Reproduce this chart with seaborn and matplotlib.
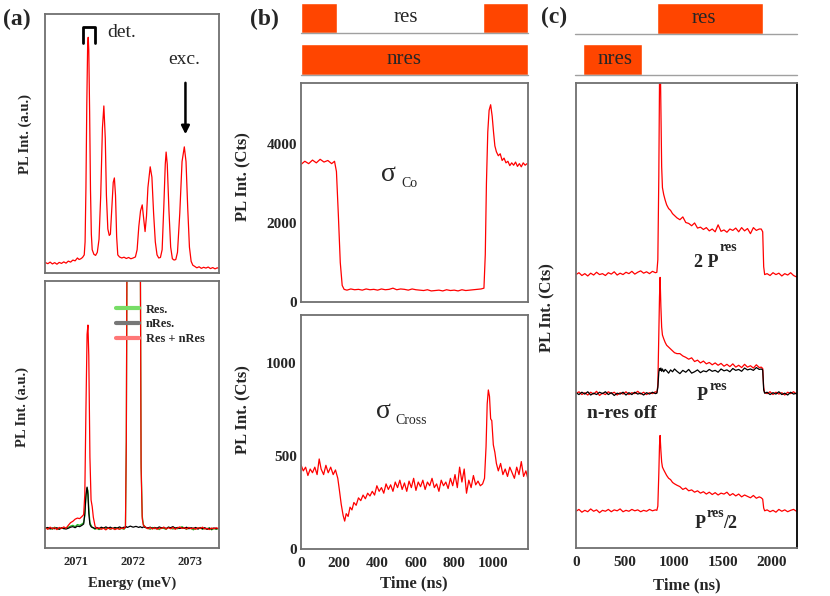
import matplotlib
matplotlib.use("Agg")
import matplotlib.pyplot as plt
from matplotlib.lines import Line2D
import seaborn as sns

W, H = 830, 596
RED = "#ff0000"
ORANGE = "#ff4500"
SPINE = "#707070"

# ---------------------------------------------------------------------------
# Data
# ---------------------------------------------------------------------------

# (a) top: PL spectrum, a.u.
a_top_energy = [
    2070.46, 2070.50, 2070.54, 2070.58, 2070.62, 2070.66, 2070.70, 2070.74, 2070.78, 2070.82,
    2070.86, 2070.90, 2070.94, 2070.98, 2071.02, 2071.05, 2071.08, 2071.11, 2071.14, 2071.155,
    2071.17, 2071.185, 2071.20, 2071.21, 2071.22, 2071.235, 2071.25, 2071.265, 2071.28, 2071.31,
    2071.34, 2071.37, 2071.40, 2071.43, 2071.46, 2071.485, 2071.51, 2071.53, 2071.555, 2071.58,
    2071.60, 2071.625, 2071.65, 2071.67, 2071.69, 2071.71, 2071.73, 2071.76, 2071.80, 2071.84,
    2071.88, 2071.92, 2071.96, 2072.00, 2072.04, 2072.07, 2072.10, 2072.13, 2072.16, 2072.19,
    2072.21, 2072.235, 2072.26, 2072.30, 2072.33, 2072.36, 2072.39, 2072.42, 2072.45, 2072.48,
    2072.51, 2072.54, 2072.565, 2072.58, 2072.60, 2072.63, 2072.66, 2072.69, 2072.72, 2072.75,
    2072.78, 2072.82, 2072.86, 2072.90, 2072.93, 2072.96, 2072.99, 2073.02, 2073.05, 2073.08,
    2073.12, 2073.16, 2073.20, 2073.24, 2073.28, 2073.32, 2073.36, 2073.40, 2073.44, 2073.48,
    2073.51,
]
a_top_pl = [
    0.040, 0.036, 0.042, 0.035, 0.040, 0.034, 0.041, 0.037, 0.043, 0.038,
    0.046, 0.042, 0.050, 0.047, 0.058, 0.052, 0.055, 0.060, 0.070, 0.120,
    0.330, 0.650, 0.880, 0.910, 0.860, 0.620, 0.320, 0.150, 0.090, 0.072,
    0.068, 0.080, 0.130, 0.300, 0.560, 0.645, 0.520, 0.300, 0.170, 0.145,
    0.150, 0.250, 0.350, 0.367, 0.300, 0.140, 0.070, 0.062, 0.058, 0.061,
    0.056, 0.060, 0.055, 0.058, 0.062, 0.090, 0.180, 0.240, 0.263, 0.200,
    0.160, 0.220, 0.330, 0.410, 0.370, 0.230, 0.120, 0.070, 0.058, 0.060,
    0.090, 0.260, 0.420, 0.467, 0.420, 0.240, 0.100, 0.055, 0.050, 0.052,
    0.080, 0.230, 0.430, 0.487, 0.430, 0.250, 0.100, 0.045, 0.030, 0.026,
    0.020, 0.024, 0.018, 0.022, 0.019, 0.023, 0.017, 0.021, 0.016, 0.020,
    0.018,
]

# (a) bottom: Res., nRes., Res + nRes spectra
a_bot_energy = [
    2070.46, 2070.50, 2070.54, 2070.58, 2070.62, 2070.66, 2070.70, 2070.74, 2070.78, 2070.82,
    2070.86, 2070.90, 2070.94, 2070.98, 2071.02, 2071.06, 2071.10, 2071.13, 2071.15, 2071.17,
    2071.19, 2071.205, 2071.22, 2071.24, 2071.26, 2071.28, 2071.30, 2071.33, 2071.36, 2071.40,
    2071.44, 2071.48, 2071.52, 2071.56, 2071.60, 2071.64, 2071.68, 2071.72, 2071.76, 2071.80,
    2071.84, 2071.865, 2071.88, 2071.90, 2071.95, 2072.00, 2072.05, 2072.10, 2072.125, 2072.14,
    2072.16, 2072.18, 2072.22, 2072.26, 2072.30, 2072.34, 2072.38, 2072.42, 2072.46, 2072.50,
    2072.54, 2072.58, 2072.62, 2072.66, 2072.70, 2072.74, 2072.78, 2072.82, 2072.86, 2072.90,
    2072.94, 2072.98, 2073.02, 2073.06, 2073.10, 2073.14, 2073.18, 2073.22, 2073.26, 2073.30,
    2073.34, 2073.38, 2073.42, 2073.46, 2073.51,
]
a_bot_both = [
    0.075, 0.070, 0.078, 0.072, 0.076, 0.069, 0.077, 0.073, 0.079, 0.074,
    0.085, 0.095, 0.100, 0.108, 0.112, 0.110, 0.118, 0.125, 0.200, 0.520,
    0.800, 0.835, 0.720, 0.340, 0.180, 0.155, 0.115, 0.082, 0.072, 0.076,
    0.070, 0.074, 0.068, 0.075, 0.071, 0.074, 0.069, 0.073, 0.070, 0.075,
    0.072, 0.080, 0.400, 1.600, 1.700, 1.750, 1.700, 1.600, 1.200, 0.300,
    0.110, 0.085, 0.078, 0.072, 0.077, 0.071, 0.076, 0.070, 0.075, 0.073,
    0.078, 0.071, 0.076, 0.072, 0.077, 0.070, 0.075, 0.079, 0.073, 0.076,
    0.071, 0.077, 0.072, 0.075, 0.070, 0.076, 0.073, 0.078, 0.071, 0.074,
    0.069, 0.075, 0.072, 0.076, 0.071,
]
a_bot_res = [
    0.077, 0.072, 0.075, 0.070, 0.078, 0.073, 0.071, 0.076, 0.072, 0.075,
    0.078, 0.082, 0.085, 0.080, 0.088, 0.085, 0.090, 0.095, 0.120, 0.190,
    0.225, 0.215, 0.150, 0.095, 0.085, 0.078, 0.075, 0.070, 0.074, 0.069,
    0.073, 0.076, 0.071, 0.075, 0.070, 0.074, 0.072, 0.076, 0.071, 0.073,
    0.070, 0.080, 0.400, 1.600, 1.700, 1.750, 1.700, 1.600, 1.200, 0.320,
    0.120, 0.088, 0.076, 0.074, 0.070, 0.077, 0.072, 0.075, 0.069, 0.076,
    0.073, 0.070, 0.078, 0.074, 0.071, 0.076, 0.072, 0.075, 0.080, 0.074,
    0.070, 0.077, 0.073, 0.068, 0.075, 0.072, 0.077, 0.070, 0.074, 0.071,
    0.076, 0.068, 0.073, 0.070, 0.074,
]
a_bot_nres = [
    0.074, 0.077, 0.071, 0.075, 0.072, 0.076, 0.070, 0.075, 0.073, 0.071,
    0.074, 0.078, 0.080, 0.076, 0.082, 0.080, 0.085, 0.090, 0.130, 0.200,
    0.228, 0.200, 0.130, 0.088, 0.080, 0.077, 0.076, 0.073, 0.077, 0.072,
    0.078, 0.074, 0.079, 0.075, 0.078, 0.073, 0.077, 0.074, 0.079, 0.075,
    0.078, 0.076, 0.080, 0.077, 0.082, 0.078, 0.081, 0.077, 0.080, 0.078,
    0.076, 0.079, 0.077, 0.075, 0.078, 0.073, 0.077, 0.074, 0.079, 0.075,
    0.077, 0.073, 0.078, 0.076, 0.080, 0.074, 0.077, 0.073, 0.076, 0.074,
    0.078, 0.072, 0.076, 0.073, 0.077, 0.071, 0.075, 0.072, 0.076, 0.070,
    0.074, 0.071, 0.075, 0.072, 0.074,
]
a_ticks = [2071, 2072, 2073]
a_legend = ["Res.", "nRes.", "Res + nRes"]

# (b) top: sigma Co, counts
b_co_time = [
    0, 20, 40, 60, 80, 100, 120, 140, 160, 175, 185, 195, 205, 215, 225, 240, 260, 280, 300, 320,
    340, 360, 380, 400, 420, 440, 460, 480, 500, 520, 540, 560, 580, 600, 620, 640, 660, 680, 700,
    720, 740, 760, 780, 800, 820, 840, 860, 880, 900, 920, 940, 955, 962, 968, 975, 982, 990, 998,
    1005, 1012, 1020, 1030, 1040, 1050, 1060, 1070, 1080, 1090, 1100, 1110, 1120, 1130, 1140,
    1150, 1160, 1170, 1180,
]
b_co_counts = [
    3480, 3560, 3500, 3590, 3520, 3610, 3540, 3580, 3500, 3560, 3300, 2200, 1000, 420, 320, 300,
    330, 310, 320, 300, 330, 310, 320, 300, 330, 310, 320, 350, 310, 330, 320, 300, 330, 310, 300,
    290, 310, 280, 290, 300, 280, 310, 290, 300, 280, 310, 290, 300, 310, 320, 330, 350, 1200,
    3000, 4300, 4850, 4990, 4700, 4300, 3950, 3800, 3700, 3750, 3580, 3640, 3520, 3560, 3450,
    3520, 3460, 3540, 3430, 3500, 3420, 3520, 3460, 3500,
]

# (b) bottom: sigma Cross, counts
b_cross_time = [
    0, 12, 24, 36, 48, 60, 72, 84, 95, 105, 118, 130, 142, 155, 168, 180, 192, 200, 210, 220,
    228, 236, 246, 256, 266, 276, 288, 300, 312, 324, 336, 348, 360, 372, 384, 396, 408, 420,
    432, 444, 456, 468, 480, 492, 504, 516, 528, 540, 552, 564, 576, 588, 600, 612, 624, 636,
    648, 660, 672, 684, 696, 708, 720, 732, 744, 756, 768, 780, 792, 804, 816, 828, 840, 852,
    864, 876, 888, 900, 912, 924, 936, 948, 958, 966, 972, 978, 984, 990, 996, 1004, 1012, 1020,
    1030, 1042, 1054, 1066, 1078, 1090, 1102, 1114, 1126, 1138, 1150, 1162, 1174, 1184,
]
b_cross_counts = [
    452, 420, 440, 395, 430, 410, 440, 400, 484, 430, 400, 450, 410, 440, 400, 425, 380, 320,
    240, 180, 150, 190, 175, 225, 210, 250, 235, 275, 260, 290, 270, 300, 285, 310, 290, 340,
    310, 330, 300, 350, 320, 345, 310, 360, 330, 370, 320, 355, 310, 365, 330, 380, 315, 360,
    335, 370, 320, 360, 340, 380, 330, 350, 310, 370, 340, 360, 325, 380, 340, 400, 330, 440,
    360, 430, 300, 370, 330, 395, 345, 365, 340, 350, 380, 550, 780, 855, 820, 700, 690, 560,
    520, 460, 420, 460, 400, 430, 390, 440, 410, 380, 440, 400, 470, 390, 420, 380,
]

# (b) laser pulse sequence (ns)
b_res_on = [(0, 189), (952, 1185)]
b_nres_on = [(0, 1185)]
b_ticks = [0, 200, 400, 600, 800, 1000]

# (c) transients (offset, arbitrary counts)
c_time = [
    0, 30, 60, 90, 120, 150, 180, 210, 240, 270, 300, 330, 360, 390, 420, 450, 480, 510, 540,
    570, 600, 630, 660, 690, 720, 750, 780, 810,
    825, 835, 845, 852, 858, 866, 874, 882, 895, 910, 925, 945, 965, 985, 1005, 1030,
    1060, 1090, 1120, 1150, 1180, 1210, 1240, 1270, 1300, 1330, 1360, 1390, 1420, 1450, 1480,
    1510, 1540, 1570, 1600, 1630, 1660, 1690, 1720, 1750, 1780, 1810, 1840, 1870,
    1890, 1905, 1915, 1925,
    1950, 1980, 2010, 2040, 2070, 2100, 2130, 2160, 2190, 2220, 2250,
]
c_2p = [
    58.8, 59.2, 58.6, 59.0, 58.5, 59.1, 58.7, 59.3, 58.8, 59.0, 58.6, 59.2, 58.9, 59.4, 58.7,
    59.1, 58.8, 59.3, 59.0, 59.5, 58.9, 59.3, 59.6, 59.1, 59.4, 59.0, 59.5, 59.2,
    59.3, 62.0, 80.0, 100.0, 108.0, 95.0, 82.0, 77.5, 76.0, 74.8, 73.8, 73.0, 72.6, 71.9, 71.5, 71.0,
    70.6, 71.2, 70.0, 69.8, 69.3, 69.9, 68.8, 69.0, 68.5, 68.9, 68.2, 68.6, 68.0, 69.5, 68.1,
    68.4, 67.9, 68.6, 68.3, 68.8, 68.0, 68.9, 68.2, 68.7, 67.6, 68.9, 68.3, 68.6,
    68.6, 68.0, 60.5, 58.8,
    59.0, 58.6, 59.2, 58.8, 59.1, 58.5, 59.0, 58.7, 59.2, 58.6, 58.3,
]
c_p = [
    33.2, 33.6, 33.0, 33.4, 32.9, 33.5, 33.1, 33.7, 32.8, 33.3, 33.0, 33.6, 33.2, 33.5, 32.9,
    33.4, 33.1, 33.6, 33.0, 33.4, 33.2, 33.7, 33.1, 33.5, 33.0, 33.4, 33.2, 33.6,
    33.4, 35.0, 46.0, 54.0, 58.2, 52.0, 47.5, 45.8, 45.0, 44.2, 43.6, 43.2, 42.8, 42.4, 42.0, 41.8,
    41.8, 41.3, 41.0, 40.6, 40.9, 40.1, 40.4, 39.8, 40.2, 39.6, 39.9, 39.4, 39.8, 39.3, 39.7,
    39.1, 39.5, 39.0, 39.6, 38.9, 39.3, 38.8, 39.5, 38.9, 39.2, 38.7, 39.4, 38.8,
    38.9, 38.6, 34.5, 33.4,
    33.2, 33.6, 33.0, 33.5, 33.1, 33.4, 32.9, 33.5, 33.2, 33.6, 33.1,
]
c_p_nres_off = [
    33.4, 33.0, 33.5, 33.1, 33.6, 32.9, 33.3, 33.0, 33.5, 33.2, 33.6, 33.0, 33.4, 32.8, 33.3,
    33.1, 33.5, 32.9, 33.4, 33.0, 33.5, 33.1, 33.3, 32.9, 33.4, 33.1, 33.5, 33.2,
    33.3, 34.5, 37.8, 38.6, 38.2, 38.7, 38.0, 38.5, 37.9, 38.4, 38.1, 37.6, 38.3, 37.9, 38.5, 38.0,
    37.5, 38.2, 37.8, 38.4, 37.6, 37.9, 38.3, 37.7, 38.1, 37.9, 38.4, 38.0, 38.2, 37.8, 38.5,
    38.1, 38.3, 37.9, 38.6, 38.2, 38.4, 38.0, 38.7, 38.3, 38.5, 38.2, 38.8, 38.4,
    38.5, 38.3, 34.0, 33.3,
    33.5, 33.0, 33.4, 33.1, 33.6, 33.0, 33.3, 32.9, 33.5, 33.1, 33.3,
]
c_p_half = [
    7.9, 8.3, 7.7, 8.1, 7.8, 8.4, 7.9, 8.2, 7.6, 8.1, 7.9, 8.3, 7.8, 8.2, 8.0, 8.4, 7.8, 8.1,
    7.9, 8.3, 8.0, 8.2, 7.8, 8.1, 7.9, 8.3, 8.0, 8.2,
    8.1, 9.0, 16.0, 22.0, 24.2, 21.0, 18.5, 17.4, 16.8, 16.2, 15.6, 15.0, 14.7, 14.1, 13.8, 13.5,
    13.2, 12.6, 12.9, 12.3, 12.5, 12.0, 12.3, 11.8, 12.1, 11.6, 12.0, 11.5, 11.9, 11.4, 11.8,
    11.6, 12.0, 11.3, 11.7, 11.2, 11.6, 11.0, 11.4, 11.1, 10.8, 11.3, 10.7, 11.0,
    10.8, 10.5, 8.6, 8.0,
    8.2, 7.8, 8.1, 7.7, 8.3, 7.9, 8.2, 7.8, 8.1, 8.3, 7.9,
]
c_res_on = [(831, 1908)]
c_nres_on = [(82, 677)]
c_ticks = [0, 500, 1000, 1500, 2000]


# ---------------------------------------------------------------------------
# Helpers
# ---------------------------------------------------------------------------

def px_axes(fig, x0, y0, x1, y1):
    """Axes from a pixel box (left, top, right, bottom) of the 830x596 figure."""
    return fig.add_axes([x0 / W, 1 - y1 / H, (x1 - x0) / W, (y1 - y0) / H])


def style_frame(ax):
    for s in ax.spines.values():
        s.set_color(SPINE)
        s.set_linewidth(1.3)
        s.set_visible(True)


def place_ylabel(ax, text, size, x, y):
    ax.set_ylabel(text, fontsize=size)
    ax.yaxis.set_label_coords(x, y)
    ax.yaxis.label.set_va("center")


def place_xlabel(ax, text, size, x, y):
    ax.set_xlabel(text, fontsize=size)
    ax.xaxis.set_label_coords(x, y)
    ax.xaxis.label.set_va("center")


def pulse_bar(ax, spans, xlim, label, label_x):
    ax.set_xlim(*xlim)
    ax.set_ylim(0, 1)
    ax.axis("off")
    ax.axhline(0, color="#a0a0a0", lw=1.0, clip_on=False)
    ax.broken_barh([(a, b - a) for a, b in spans], (0, 1), facecolors=ORANGE)
    ax.text(label_x, 0.5, label, ha="center", va="center", fontsize=15,
            fontweight="normal")


# ---------------------------------------------------------------------------
# Figure
# ---------------------------------------------------------------------------

sns.set_style("white")
plt.rcParams["font.family"] = ["Liberation Serif", "DejaVu Serif"]
plt.rcParams["font.weight"] = "bold"
plt.rcParams["axes.labelweight"] = "bold"

fig = plt.figure(figsize=(W / 100, H / 100), dpi=100)

# ----- (a) top ------------------------------------------------------------
ax = px_axes(fig, 45, 14, 219, 273)
sns.lineplot(x=a_top_energy, y=a_top_pl, ax=ax, color=RED, lw=0.9, legend=False)
ax.set_xlim(2070.45, 2073.51)
ax.set_ylim(0, 1)
ax.set_xticks(a_ticks)
ax.set_yticks([])
ax.tick_params(axis="x", direction="in", length=5, width=1, labelbottom=False)
place_ylabel(ax, "PL Int. (a.u.)", 10.5, -0.115, 0.537)
style_frame(ax)
ax.plot([2071.127, 2071.127, 2071.337, 2071.337], [0.888, 0.95, 0.95, 0.888],
        color="black", lw=2)
ax.text(2071.55, 0.93, "det.", fontsize=14, fontweight="normal", va="center")
ax.text(2072.62, 0.826, "exc.", fontsize=14, fontweight="normal", va="center")
ax.annotate("", xy=(2072.92, 0.525), xytext=(2072.92, 0.745),
            arrowprops=dict(arrowstyle="-|>", color="black", lw=1.8,
                            mutation_scale=12))

# ----- (a) bottom -----------------------------------------------------------
ax = px_axes(fig, 45, 281, 219, 548)
sns.lineplot(x=a_bot_energy, y=a_bot_res, ax=ax, color="#22bb22", lw=0.9, legend=False)
sns.lineplot(x=a_bot_energy, y=a_bot_nres, ax=ax, color="black", lw=0.9, legend=False)
sns.lineplot(x=a_bot_energy, y=a_bot_both, ax=ax, color=RED, lw=0.9, legend=False)
ax.set_xlim(2070.45, 2073.51)
ax.set_ylim(0, 1)
ax.set_xticks(a_ticks)
ax.set_xticklabels([str(t) for t in a_ticks])
ax.set_yticks([])
ax.tick_params(axis="x", direction="in", length=5, width=1, labelsize=9, pad=6)
place_ylabel(ax, "PL Int. (a.u.)", 10.5, -0.132, 0.528)
place_xlabel(ax, "Energy (meV)", 10.5, 0.5, -0.131)
style_frame(ax)
handles = [Line2D([], [], color=c, lw=3) for c in ("#77dd66", "#777777", "#ff7777")]
ax.legend(handles, a_legend, loc="upper left", bbox_to_anchor=(0.41, 0.915),
          frameon=False, fontsize=9, handlelength=1.85, handletextpad=0.5,
          labelspacing=0.22, borderpad=0, borderaxespad=0)

# ----- (b) ------------------------------------------------------------------
B_XLIM = (0, 1185)
pulse_bar(px_axes(fig, 301, 3, 528, 33), b_res_on, B_XLIM, "res", 545)
pulse_bar(px_axes(fig, 301, 44, 528, 75), b_nres_on, B_XLIM, "nres", 540)

ax = px_axes(fig, 301, 83, 528, 302)
sns.lineplot(x=b_co_time, y=b_co_counts, ax=ax, color=RED, lw=0.9, legend=False)
ax.set_xlim(*B_XLIM)
ax.set_ylim(0, 5540)
ax.set_xticks(b_ticks)
ax.set_yticks([0, 2000, 4000])
ax.tick_params(direction="in", length=6, width=1, labelsize=11, pad=3,
               labelbottom=False)
place_ylabel(ax, "PL Int. (Cts)", 12, -0.255, 0.575)
style_frame(ax)
ax.text(458, 3213, "σ", fontsize=20, fontweight="normal", ha="center", va="center")
ax.text(526, 3010, "Co", fontsize=10, fontweight="normal", va="center")

ax = px_axes(fig, 301, 315, 528, 549)
sns.lineplot(x=b_cross_time, y=b_cross_counts, ax=ax, color=RED, lw=0.9, legend=False)
ax.set_xlim(*B_XLIM)
ax.set_ylim(0, 1258)
ax.set_xticks(b_ticks)
ax.set_yticks([0, 500, 1000])
ax.tick_params(direction="in", length=6, width=1, labelsize=11, pad=3)
ax.tick_params(axis="x", pad=6)
place_ylabel(ax, "PL Int. (Cts)", 12, -0.255, 0.594)
place_xlabel(ax, "Time (ns)", 12, 0.498, -0.145)
style_frame(ax)
ax.text(432, 737, "σ", fontsize=20, fontweight="normal", ha="center", va="center")
ax.text(495, 693, "Cross", fontsize=10, fontweight="normal", va="center")

# ----- (c) ------------------------------------------------------------------
C_XLIM = (0, 2255)
pulse_bar(px_axes(fig, 575, 3, 797, 34), c_res_on, C_XLIM, "res", 1313)
pulse_bar(px_axes(fig, 575, 44, 797, 75), c_nres_on, C_XLIM, "nres", 410)

ax = px_axes(fig, 576, 83, 797, 548)
sns.lineplot(x=c_time, y=c_2p, ax=ax, color=RED, lw=0.9, legend=False)
sns.lineplot(x=c_time, y=c_p, ax=ax, color=RED, lw=0.9, legend=False)
sns.lineplot(x=c_time, y=c_p_nres_off, ax=ax, color="black", lw=0.9, legend=False)
sns.lineplot(x=c_time, y=c_p_half, ax=ax, color=RED, lw=0.9, legend=False)
ax.set_xlim(*C_XLIM)
ax.set_ylim(0, 100)
ax.set_xticks(c_ticks)
ax.set_yticks([])
ax.tick_params(axis="x", direction="in", length=6, width=1, labelsize=11, pad=6)
place_ylabel(ax, "PL Int. (Cts)", 12, -0.131, 0.516)
place_xlabel(ax, "Time (ns)", 12, 0.502, -0.08)
style_frame(ax)
ax.spines["right"].set_color("black")

ax.text(1200, 61.5, "2 P", fontsize=13, va="center")
ax.text(1467, 64.7, "res", fontsize=10, va="center")
ax.text(1231, 32.9, "P", fontsize=13, va="center")
ax.text(1364, 34.8, "res", fontsize=10, va="center")
ax.text(113, 29.0, "n-res off", fontsize=14, va="center")
ax.text(1210, 5.2, "P", fontsize=13, va="center")
ax.text(1333, 7.5, "res", fontsize=10, va="center")
ax.text(1497, 5.2, "/2", fontsize=13, va="center")

# ----- panel letters --------------------------------------------------------
fig.text(3 / W, 1 - 19 / H, "(a)", fontsize=17, va="center")
fig.text(250 / W, 1 - 19 / H, "(b)", fontsize=17, va="center")
fig.text(541 / W, 1 - 17 / H, "(c)", fontsize=17, va="center")

fig.savefig("out.png", dpi=100)
